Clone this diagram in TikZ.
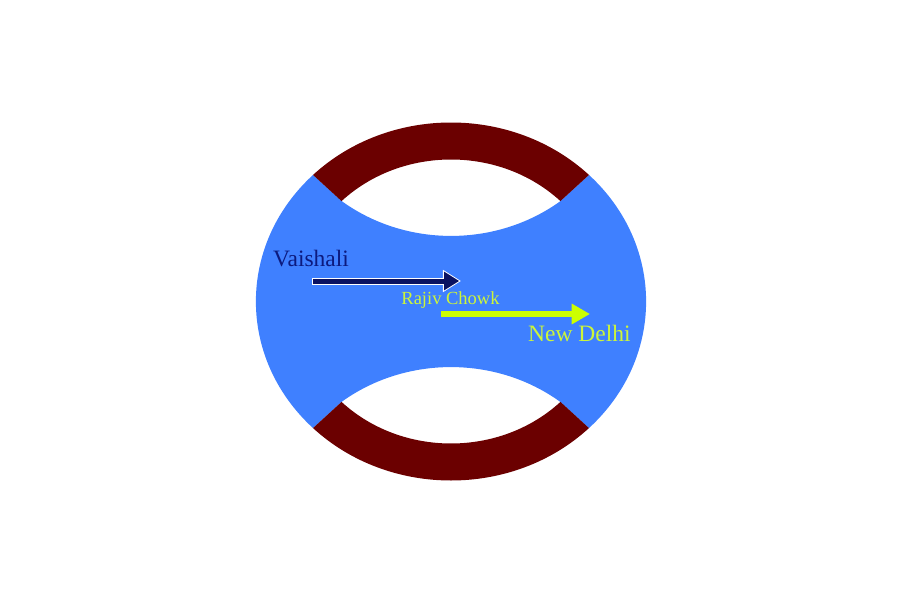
\documentclass[tikz,border=0pt]{standalone}
\usepackage{fontspec}
\setmainfont{Liberation Serif}
\usetikzlibrary{arrows.meta}
\definecolor{metroblue}{HTML}{3F80FF}
\definecolor{ringred}{HTML}{6B0000}
\definecolor{navyline}{HTML}{0A1262}
\definecolor{navytext}{HTML}{0C1A7E}
\definecolor{limeline}{HTML}{CCFF00}
\definecolor{limetext}{HTML}{CCF53A}
\tikzset{
  station/.style={inner sep=0pt, font=\fontsize{23.5}{26}\selectfont},
  smallstation/.style={inner sep=0pt, font=\fontsize{18.5}{21}\selectfont},
}
\begin{document}
\begin{tikzpicture}[x=1pt,y=1pt]
        \useasboundingbox (-451,-298.5) rectangle (449,301.5);
        \begin{scope}[xscale=1.09]
        \fill[metroblue] (135:179) arc[start angle=135,end angle=225,radius=179]
            -- (225:142) arc[start angle=128.3,end angle=51.7,radius=161.9]
            -- (315:179) arc[start angle=-45,end angle=45,radius=179]
            -- (45:142) arc[start angle=-51.7,end angle=-128.3,radius=161.9] -- cycle;
        \fill[ringred] (45:179) arc[start angle=45,end angle=135,radius=179]
            -- (135:142) arc[start angle=135,end angle=45,radius=142] -- cycle;
        \fill[ringred] (225:179) arc[start angle=225,end angle=315,radius=179]
            -- (315:142) arc[start angle=315,end angle=225,radius=142] -- cycle;
        \end{scope}
        \coordinate (vstart) at (-138,20.5);
        \coordinate (vend) at (10,20.5);
        \coordinate (nstart) at (-9.5,-12.5);
        \coordinate (nend) at (139,-12.5);
        \draw[white, line width=7pt, -{Triangle[length=18pt,width=21pt]}] ([xshift=-1pt]vstart) -- (vend);
        \draw[navyline, line width=5pt, -{Triangle[length=15pt,width=17.5pt]}] (vstart) -- ([xshift=-1.8pt]vend);
        \draw[limeline, line width=6.6pt, -{Triangle[length=18.3pt,width=19.5pt]}] (nstart) -- (nend);
        \node[station, anchor=base west, text=navytext] (vaishali) at (-178,34.8) {Vaishali};
        \node[smallstation, anchor=base, text=limetext] (rajiv) at (-0.5,-2.5) {Rajiv Chowk};
        \node[station, anchor=base west, text=limetext] (delhi) at (77,-40.2) {New Delhi};
    \end{tikzpicture}
\end{document}
